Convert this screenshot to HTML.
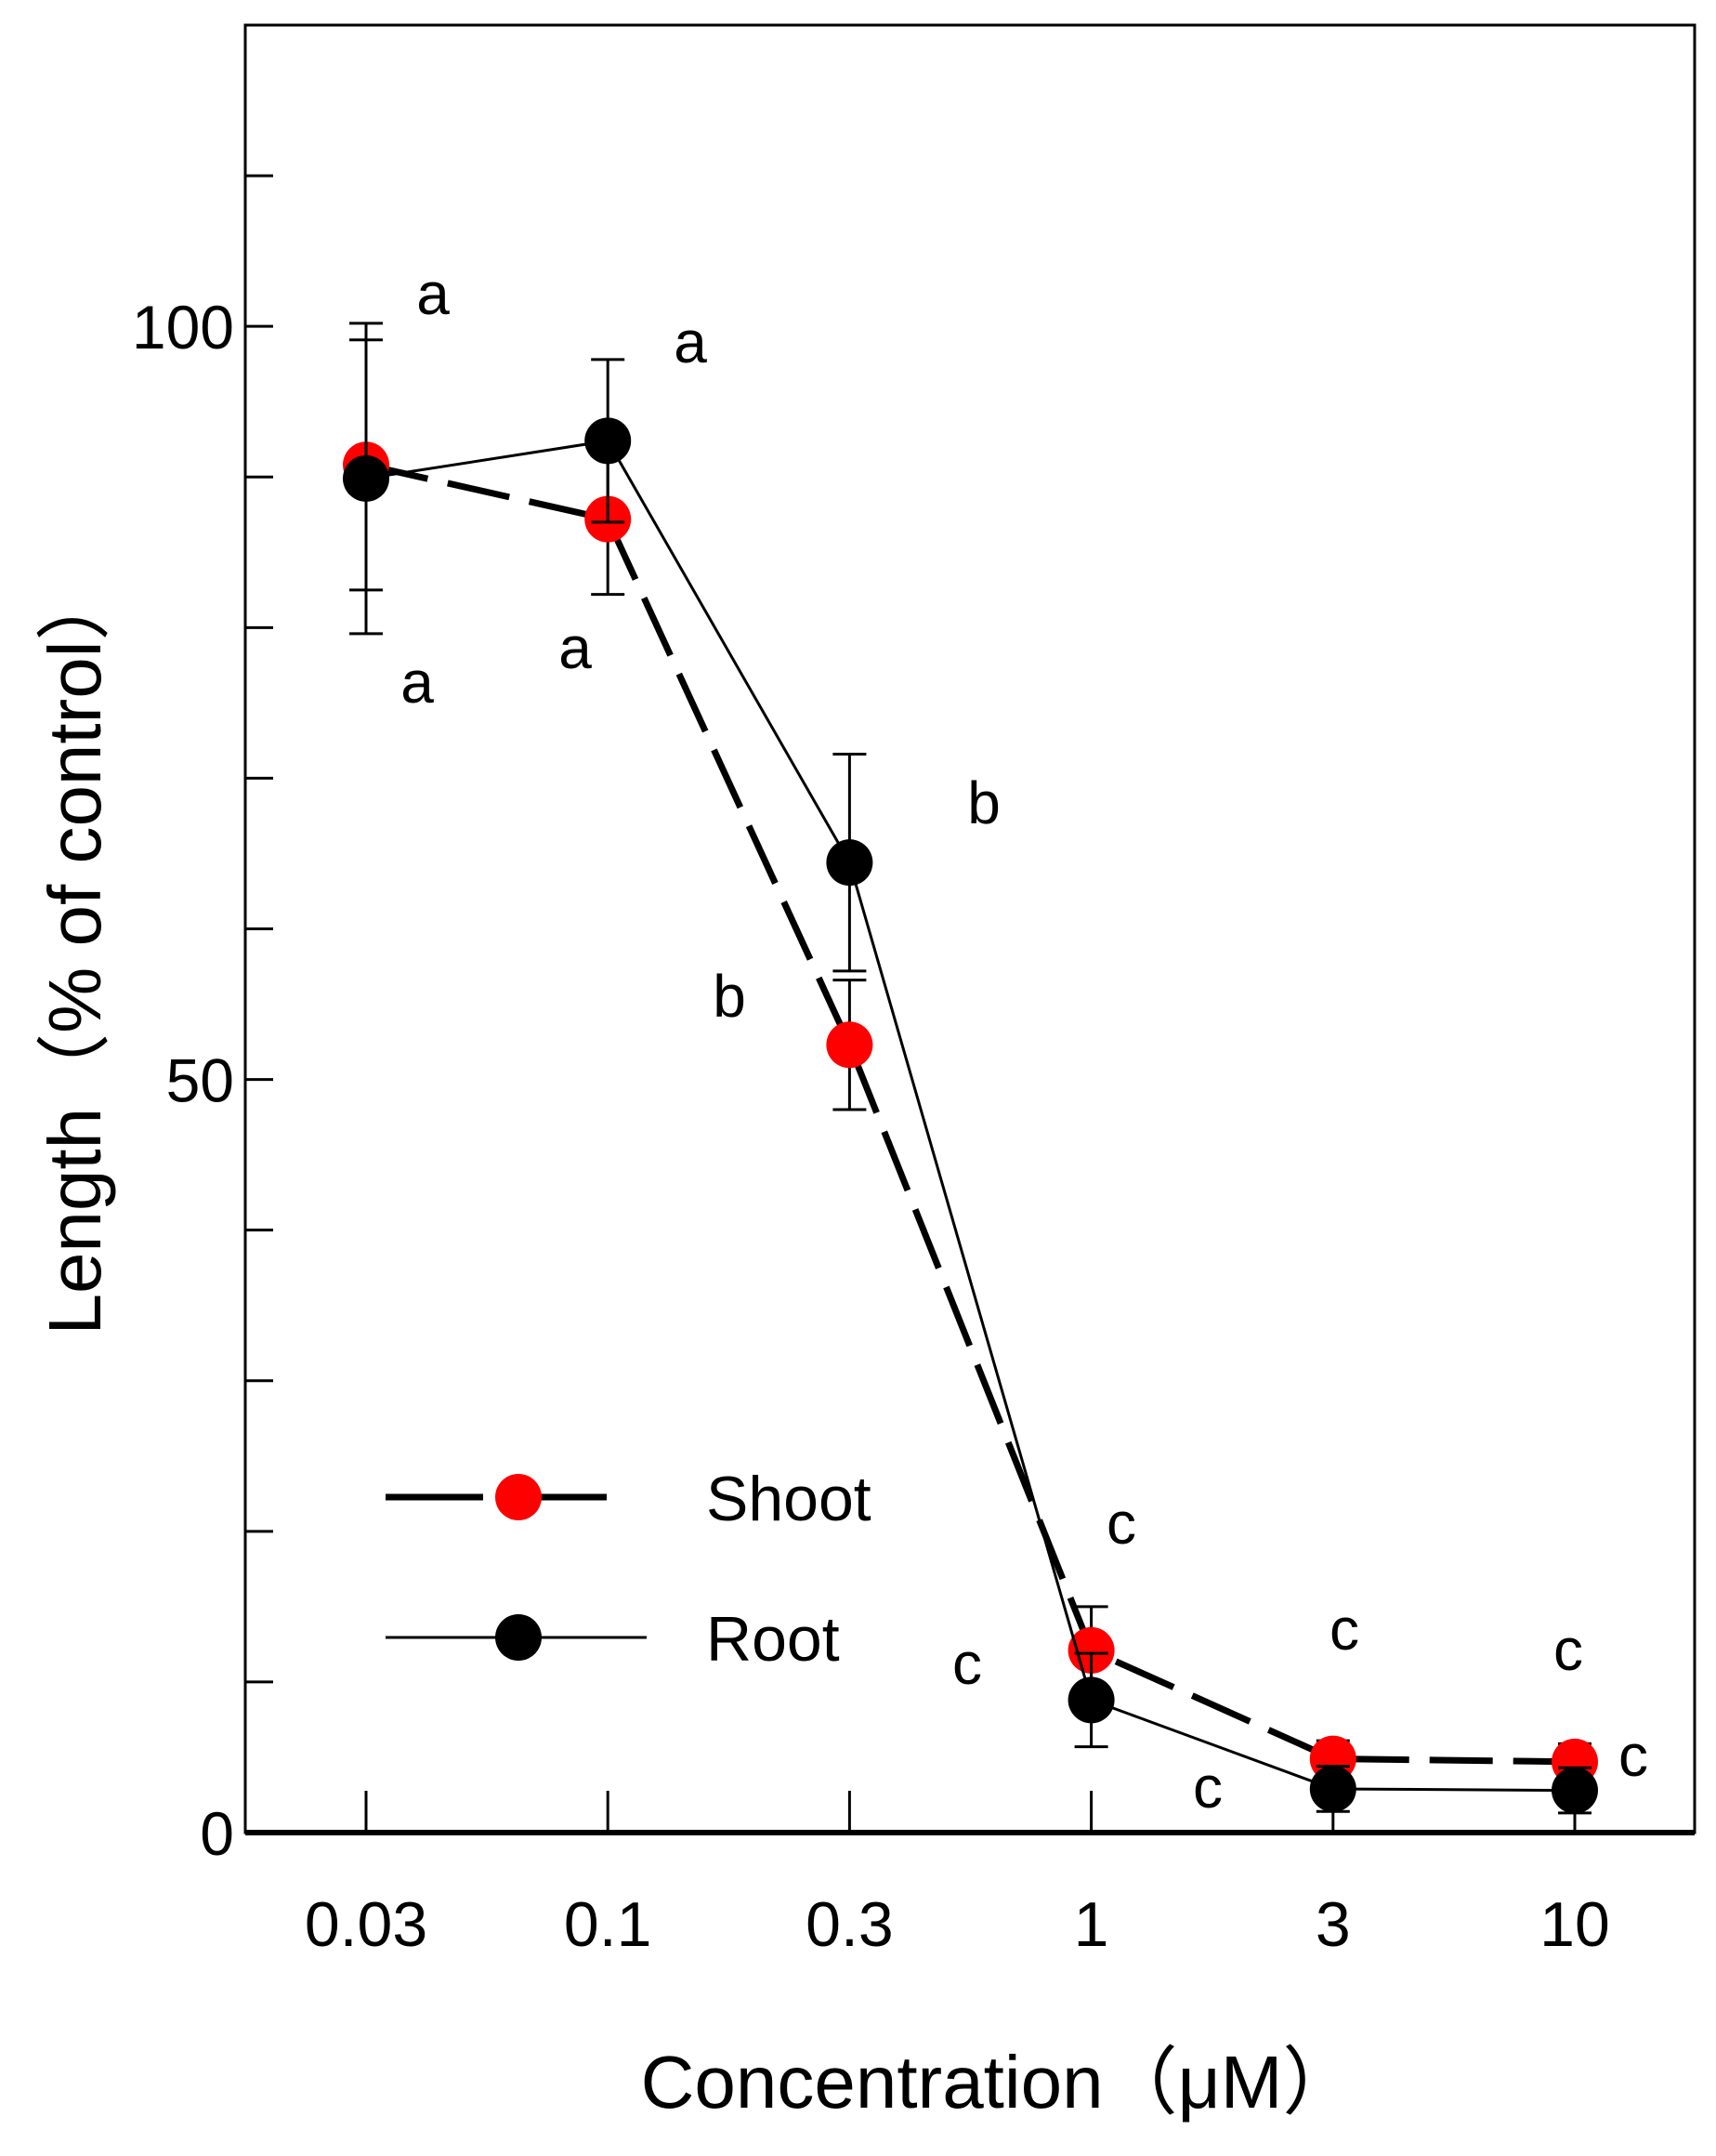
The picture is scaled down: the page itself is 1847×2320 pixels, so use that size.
<!DOCTYPE html>
<html><head><meta charset="utf-8"><style>
html,body{margin:0;padding:0;background:#fff}
svg{display:block}
text{font-family:"Liberation Sans","Noto Sans CJK SC",sans-serif;fill:#000}
</style></head><body>
<svg id="chart" width="1847" height="2320" viewBox="0 0 1847 2320" xmlns="http://www.w3.org/2000/svg">
<g id="plot"></g>
<text x="1075" y="2268" font-size="80" text-anchor="middle">Concentration（μM）</text>
<text transform="translate(108,1023) rotate(-90)" font-size="80" text-anchor="middle">Length（% of control）</text>
<g>
<line x1="415" y1="1611" x2="659" y2="1611" stroke="#000" stroke-width="7" stroke-dasharray="105,28"/>
<circle cx="558" cy="1611" r="25" fill="#f00"/>
<text x="760" y="1636" font-size="68">Shoot</text>
<line x1="415" y1="1762" x2="696" y2="1762" stroke="#000" stroke-width="3"/>
<circle cx="558" cy="1762" r="25" fill="#000"/>
<text x="760" y="1787" font-size="68">Root</text>
</g>
</svg>
<script>
const categories = ["0.03","0.1","0.3","1","3","10"];
const shootValues = [90.8, 87.2, 52.3, 12.1, 4.9, 4.7];
const shootErrors = [8.3, 5.0, 4.3, 2.9, 1.2, 1.2];
const rootValues = [89.9, 92.4, 64.4, 8.8, 2.9, 2.8];
const rootErrors = [10.3, 5.4, 7.2, 3.1, 1.5, 1.5];
const yTickLabels = [0, 50, 100];
const yMinorTicks = [10,20,30,40,60,70,80,90,110];
const shootLetters = ["a","a","b","c","c","c"];
const rootLetters = ["a","a","b","c","c","c"];

const NS = "http://www.w3.org/2000/svg";
const L = 264, R = 1824, T = 27, B = 1972;
const yMax = 120;
function xs(i){ return 394 + i * 260.2; }
function ys(v){ return B - v * (B - T) / yMax; }
const plot = document.getElementById('plot');
function mk(tag, attrs, parent){
  const e = document.createElementNS(NS, tag);
  for (const k in attrs) e.setAttribute(k, attrs[k]);
  (parent || plot).appendChild(e);
  return e;
}
const frame = mk('rect', {x:L, y:T, width:R-L, height:B-T, fill:'none', stroke:'#000', 'stroke-width':3});


const xaxis = mk('line', {x1:L, y1:B, x2:R, y2:B, stroke:'#000', 'stroke-width':6});


yTickLabels.forEach(v => {
  const t = mk('line', {x1:L, y1:ys(v), x2:L+30, y2:ys(v), stroke:'#000', 'stroke-width':3});
  
  
  const lb = mk('text', {x:L-12, y:ys(v)+24, 'font-size':66, 'text-anchor':'end'});
  lb.textContent = v;
  
  
});
yMinorTicks.forEach(v => {
  const t = mk('line', {x1:L, y1:ys(v), x2:L+30, y2:ys(v), stroke:'#000', 'stroke-width':3});
  
  
});
categories.forEach((c, i) => {
  const t = mk('line', {x1:xs(i), y1:B, x2:xs(i), y2:B-45, stroke:'#000', 'stroke-width':3});
  
  
  const lb = mk('text', {x:xs(i), y:2094, 'font-size':68, 'text-anchor':'middle'});
  lb.textContent = c;
  
  
});
function series(vals, errs, name, dash, width){
  const g = mk('g', {});
  
  
  vals.forEach((v, i) => {
    const x = xs(i);
    const eb = mk('path', {d:`M${x},${ys(v+errs[i])}V${ys(v-errs[i])}M${x-18},${ys(v+errs[i])}H${x+18}M${x-18},${ys(v-errs[i])}H${x+18}`, stroke:'#000', 'stroke-width':3, fill:'none'}, g);
    
    
  });
  const pl = mk('polyline', {points: vals.map((v,i)=>xs(i)+','+ys(v)).join(' '), fill:'none', stroke:'#000', 'stroke-width':width, 'stroke-dasharray':dash}, g);
  
  
  return g;
}
const sg = series(shootValues, shootErrors, 'shoot', '68,22', 7);
const rg = series(rootValues, rootErrors, 'root', 'none', 3);
shootValues.forEach((v, i) => {
  const c = mk('circle', {cx:xs(i), cy:ys(v), r:25, fill:'#f00'}, sg);
  
  
});
rootValues.forEach((v, i) => {
  const c = mk('circle', {cx:xs(i), cy:ys(v), r:25, fill:'#000'}, rg);
  
  
});
const shootLetterPos = [[449,736],[619,699],[785,1074],[1041,1792],[1447,1755],[1758,1891]];
const rootLetterPos = [[466,318],[743,370],[1059,866],[1207,1641],[1300,1925],[1688,1777]];
shootLetters.forEach((s, i) => {
  const t = mk('text', {x:shootLetterPos[i][0], y:shootLetterPos[i][1]+20, 'font-size':64, 'text-anchor':'middle'});
  t.textContent = s;
  
  
});
rootLetters.forEach((s, i) => {
  const t = mk('text', {x:rootLetterPos[i][0], y:rootLetterPos[i][1]+20, 'font-size':64, 'text-anchor':'middle'});
  t.textContent = s;
  
  
});
</script>
</body></html>
